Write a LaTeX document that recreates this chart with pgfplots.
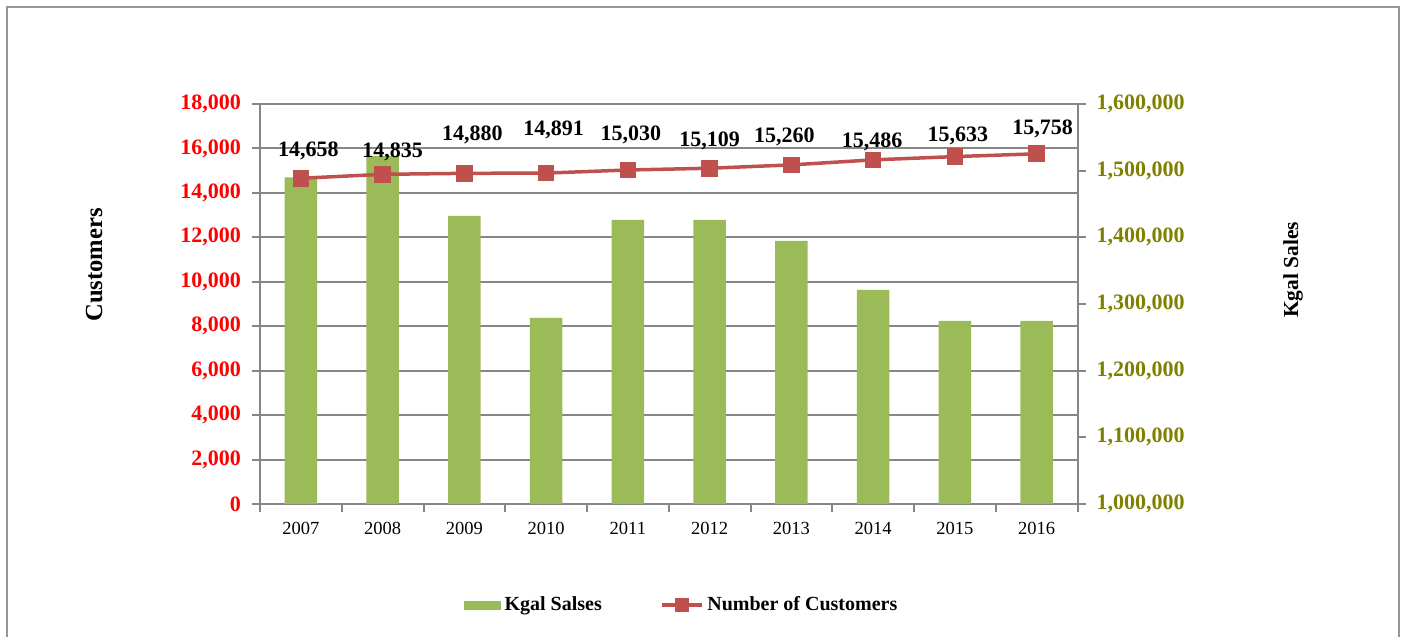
\documentclass[border=0pt]{standalone}
\usepackage{fontspec}
\setmainfont{Liberation Serif}
\usepackage{pgfplots}
\usepackage{pgfplotstable}
\pgfplotsset{compat=1.18}

\definecolor{barg}{RGB}{155,187,89}
\definecolor{liner}{RGB}{192,80,77}
\definecolor{olivetxt}{RGB}{128,128,0}
\definecolor{axgray}{RGB}{134,134,134}
\definecolor{framegray}{RGB}{150,150,150}

% Kgal sales (right axis)
\pgfplotstableread{
x kgal
0 1490000
1 1522000
2 1432000
3 1279000
4 1426000
5 1426000
6 1394500
7 1321000
8 1274500
9 1274500
}\salestable

% customers (left axis), dx/dy = label offsets in pt
\pgfplotstableread{
x cust dx dy
0 14658 3.75 13.8
1 14835 5 11.25
2 14880 4 19
3 14891 3.75 21.5
4 15030 1.5 17.5
5 15109 0 13.5
6 15260 -3.5 13.75
7 15486 -0.5 8.85
8 15633 1.5 10.25
9 15758 3 12.35
}\custtable

\pgfplotsset{
  base/.style={
    scale only axis, width=408.75pt, height=200pt,
    at={(130pt,66.5pt)}, anchor=south west,
    xmin=-0.5, xmax=9.5,
    axis line style={axgray, line width=1pt},
    tick style={axgray, line width=1pt},
    tick align=outside,
    major tick length=4pt, minor tick length=4pt,
    scaled y ticks=false,
    /pgf/number format/assume math mode=true,
    /pgf/number format/fixed,
    /pgf/number format/1000 sep={,},
  }
}

\begin{document}
\begin{tikzpicture}
\path[use as bounding box] (0,0) rectangle (702.5pt,318.5pt);
\draw[framegray, line width=1pt] (3.25pt,-10pt) rectangle (699.5pt,315pt);

% grid, left axis, x axis
\begin{axis}[base,
  ymin=0, ymax=18000, ytick={0,2000,...,18000},
  ymajorgrids, grid style={axgray, line width=1pt},
  axis y line*=left, axis x line*=bottom,
  xtick={0,...,9},
  xticklabels={2007,2008,2009,2010,2011,2012,2013,2014,2015,2016},
  major x tick style={draw=none},
  minor xtick={-0.5,0.5,...,9.5},
  x tick label style={font=\fontsize{9.25}{11}\selectfont, black, yshift=-1.5pt},
  y tick label style={font=\fontsize{11}{13}\selectfont\bfseries, red, xshift=-2pt},
  ylabel={Customers},
  ylabel style={at={(axis description cs:-0.203,0.5975)}, anchor=center,
    font=\fontsize{12.3}{14}\selectfont\bfseries},
]
\addplot[draw=none, forget plot] coordinates {(0,0)};
\end{axis}

% bars, right axis
\begin{axis}[base,
  ymin=1000000, ymax=1600000, ytick={1000000,1100000,...,1600000},
  axis y line*=right, axis x line=none,
  ybar, bar width=0.4,
  y tick label style={font=\fontsize{11}{13}\selectfont\bfseries, olivetxt, xshift=2pt},
  ylabel={Kgal Sales},
  ylabel style={at={(axis description cs:1.2636,0.585)}, anchor=center,
    font=\fontsize{10.7}{13}\selectfont\bfseries},
]
\addplot[fill=barg, draw=none] table[x=x, y=kgal] {\salestable};
\end{axis}

% customer line and legend
\begin{axis}[base,
  ymin=0, ymax=18000, hide axis,
  legend columns=2,
  legend style={at={(0.5169,-0.2525)}, anchor=center, draw=none, fill=none,
    font=\fontsize{10}{12}\selectfont\bfseries,
    /tikz/every even column/.append style={column sep=27pt}},
]
\addlegendimage{legend image code/.code={\fill[barg] (0pt,-2pt) rectangle (18pt,2pt);}}
\addlegendentry{Kgal Salses}
\addlegendimage{legend image code/.code={
  \draw[liner, line width=1.75pt] (0pt,0pt) -- (20pt,0pt);
  \fill[liner] (6.7pt,-3.3pt) rectangle (13.3pt,3.3pt);}}
\addlegendentry{Number of Customers}

\addplot[liner, line width=1.75pt, mark=square*, mark size=3.3pt,
  mark options={solid, fill=liner}, forget plot,
  nodes near coords, point meta=explicit,
  visualization depends on={\thisrow{dx}\as\dx},
  visualization depends on={\thisrow{dy}\as\dy},
  nodes near coords style={font=\fontsize{11}{13}\selectfont\bfseries, black,
    anchor=center, xshift=\dx pt, yshift=\dy pt},
] table[x=x, y=cust, meta=cust] {\custtable};
\end{axis}
\end{tikzpicture}
\end{document}
